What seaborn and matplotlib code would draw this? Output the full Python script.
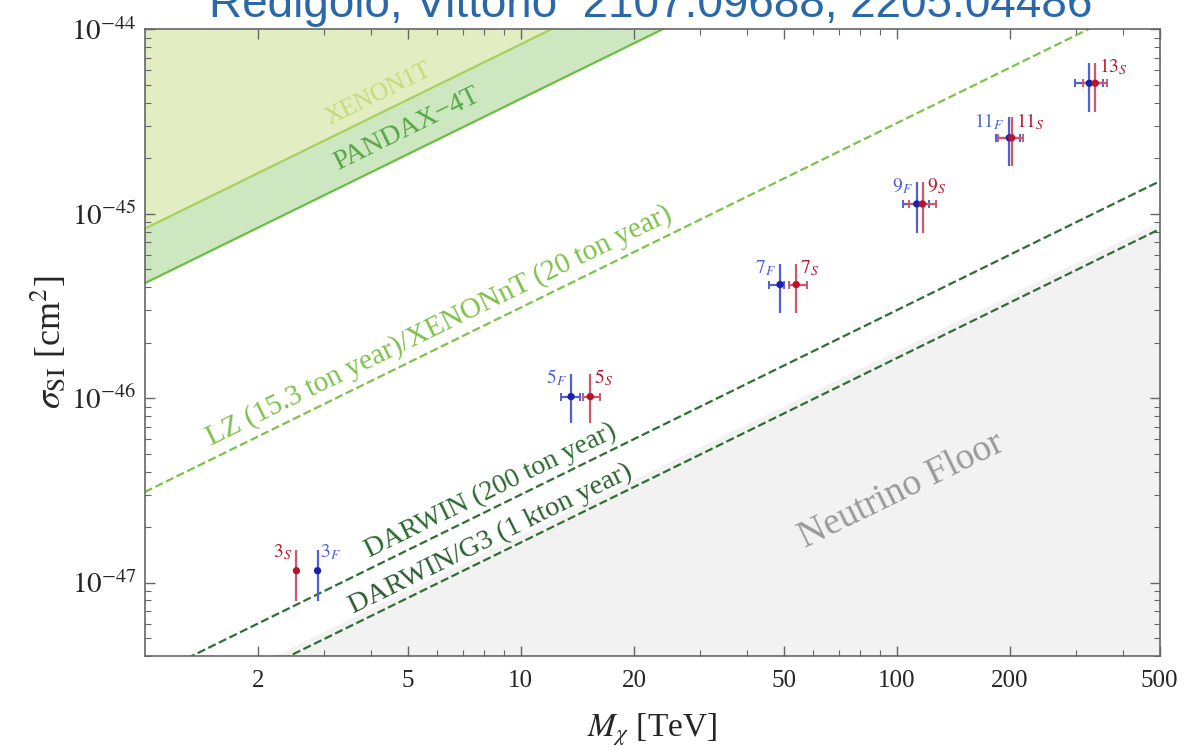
import numpy as np
import matplotlib
matplotlib.use("Agg")
import matplotlib.pyplot as plt
import seaborn as sns

# limit lines: two points read at the edges of the plot (mass in TeV, sigma in cm^2)
m_edges = [1, 500]
xenon1t = [8.3e-46, 4.15e-43]
pandax4t = [4.2e-46, 2.1e-43]
lz_xenonnt = [3.1e-47, 1.55e-44]
darwin = [3.0e-48, 1.5e-45]
darwin_g3 = [1.65e-48, 8.25e-46]
nu_floor = [1.8e-48, 9.0e-46]

# multiplets: F = fermion (blue), S = scalar (red)
n_labels = ["3", "5", "7", "9", "11", "13"]
sigma = [1.16e-47, 1.02e-46, 4.13e-46, 1.13e-45, 2.58e-45, 5.1e-45]
sigma_lo = [7.9e-48, 7.3e-47, 2.88e-46, 7.9e-46, 1.82e-45, 3.56e-45]
sigma_hi = [1.51e-47, 1.36e-46, 5.37e-46, 1.48e-45, 3.34e-45, 6.6e-45]
m_F = [2.88, 13.6, 48.9, 113, 199, 325]
m_F_lo = [2.88, 12.8, 45.8, 104, 183, 298]
m_F_hi = [2.88, 14.4, 50.2, 122, 213, 354]
m_S = [2.53, 15.3, 54.0, 117, 202, 337]
m_S_lo = [2.53, 14.6, 51.7, 108, 186, 313]
m_S_hi = [2.53, 16.2, 57.7, 127, 216, 363]

sns.set_style("ticks")
plt.rcParams['font.family'] = ['Liberation Serif', 'DejaVu Serif']
plt.rcParams['mathtext.fontset'] = 'stix'

fig = plt.figure(figsize=(11.87, 7.51), dpi=100)
ax = fig.add_axes([0.122, 0.1265, 0.855, 0.8345])
ax.set_xscale('log')
ax.set_yscale('log')
ax.set_xlim(1, 500)
ax.set_ylim(4e-48, 1e-44)

# excluded regions
ax.fill_between(m_edges, pandax4t, [1e-40, 1e-40], color='#cde8c0', lw=0, zorder=0)
ax.fill_between(m_edges, xenon1t, [1e-40, 1e-40], color='#e2edc2', lw=0, zorder=0)
ax.fill_between(m_edges, [1e-50, 1e-50], nu_floor, color='#f2f2f2', lw=0, zorder=0)

sns.lineplot(x=m_edges, y=xenon1t, ax=ax, color='#a8d060', lw=1.6)
sns.lineplot(x=m_edges, y=pandax4t, ax=ax, color='#6cbd45', lw=1.6)
sns.lineplot(x=m_edges, y=lz_xenonnt, ax=ax, color='#7dc24b', lw=1.6, linestyle='--', dashes=(4, 2.5))
sns.lineplot(x=m_edges, y=darwin, ax=ax, color='#2f6e35', lw=1.6, linestyle='--', dashes=(4, 2.5))
sns.lineplot(x=m_edges, y=darwin_g3, ax=ax, color='#2f6e35', lw=1.6, linestyle='--', dashes=(4, 2.5))

rot = 26.1
th = np.radians(rot)


def line_label(text, x, line, off, **kw):
    # put text parallel to a limit line, off pixels above it
    y = 10 ** np.interp(np.log10(x), np.log10(m_edges), np.log10(line))
    ax.annotate(text, (x, y), xytext=(-off * np.sin(th), off * np.cos(th)), textcoords='offset pixels',
                rotation=rot, rotation_mode='anchor', ha='center', va='baseline', **kw)


line_label('XENON1T', 4.4, xenon1t, 12, color='#c8d878', fontsize=18)
line_label('PANDAX\u22124T', 5.3, pandax4t, 16, color='#55a845', fontsize=20)
line_label('LZ (15.3 ton year)/XENONnT (20 ton year)', 6.4, lz_xenonnt, 12, color='#7dc24b', fontsize=21)
line_label('DARWIN (200 ton year)', 8.7, darwin, 10, color='#2b6a30', fontsize=20)
line_label('DARWIN/G3 (1 kton year)', 8.7, darwin_g3, 10, color='#2b5e2f', fontsize=20.5)
ax.text(102.5, 3.16e-47, 'Neutrino Floor', color='#9a9a9a', fontsize=27, rotation=rot, ha='center', va='center')

# error bars and points
blue_bar, blue_pt = '#5060d8', '#1c22a8'
red_bar, red_pt = '#d05868', '#b8142a'
for m, lo, hi, bar, pt in [(m_F, m_F_lo, m_F_hi, blue_bar, blue_pt), (m_S, m_S_lo, m_S_hi, red_bar, red_pt)]:
    m = np.array(m)
    s = np.array(sigma)
    ax.errorbar(m, s, yerr=[s - np.array(sigma_lo), np.array(sigma_hi) - s], fmt='none',
                ecolor=bar, elinewidth=1.6, capsize=0, zorder=3)
    ax.errorbar(m[1:], s[1:], xerr=[m[1:] - np.array(lo)[1:], np.array(hi)[1:] - m[1:]], fmt='none',
                ecolor=bar, elinewidth=1.6, capsize=3, capthick=1.4, zorder=3)
    sns.scatterplot(x=m, y=s, ax=ax, color=pt, s=28, edgecolor='none', zorder=4)

for i, n in enumerate(n_labels):
    if i == 0:
        ax.annotate(f'${n}_{{S}}$', (m_S[i], sigma_hi[i]), xytext=(-3, -2), textcoords='offset points',
                    ha='right', va='center', color=red_pt, fontsize=14)
        ax.annotate(f'${n}_{{F}}$', (m_F[i], sigma_hi[i]), xytext=(2, -2), textcoords='offset points',
                    ha='left', va='center', color=blue_bar, fontsize=14)
        continue
    if n != '13':
        ax.annotate(f'${n}_{{F}}$', (m_F[i], sigma_hi[i]), xytext=(-3, -3), textcoords='offset points',
                    ha='right', va='center', color=blue_bar, fontsize=14)
    ax.annotate(f'${n}_{{S}}$', (m_S[i], sigma_hi[i]), xytext=(3, -3), textcoords='offset points',
                ha='left', va='center', color=red_pt, fontsize=14)

ax.set_xticks([2, 5, 10, 20, 50, 100, 200, 500])
ax.set_xticklabels(['2', '5', '10', '20', '50', '100', '200', '500'])
ax.set_yticks([1e-47, 1e-46, 1e-45, 1e-44])
ax.set_yticklabels([r'$10^{-47}$', r'$10^{-46}$', r'$10^{-45}$', r'$10^{-44}$'])
ax.tick_params(which='both', direction='in', top=True, right=True, color='#666666', labelsize=18, pad=10)
ax.tick_params(axis='y', labelsize=21, pad=6)
ax.tick_params(which='major', length=7, width=1)
ax.tick_params(which='minor', length=4, width=0.8)
ax.tick_params(axis='x', which='minor', labelbottom=False)
for sp in ax.spines.values():
    sp.set_color('#666666')
    sp.set_linewidth(1.2)

ax.set_xlabel(r'$M_\chi$ [TeV]', fontsize=24, labelpad=14)
ax.set_ylabel(r'$\sigma_{\rm SI}$ [cm$^2$]', fontsize=26, labelpad=2)

fig.text(0.548, 0.977, 'Redigolo, Vittorio  2107.09688, 2205.04486', color='#2a68a8',
         fontsize=33, family='Liberation Sans', ha='center', va='baseline')

fig.savefig('out.png', dpi=100)
